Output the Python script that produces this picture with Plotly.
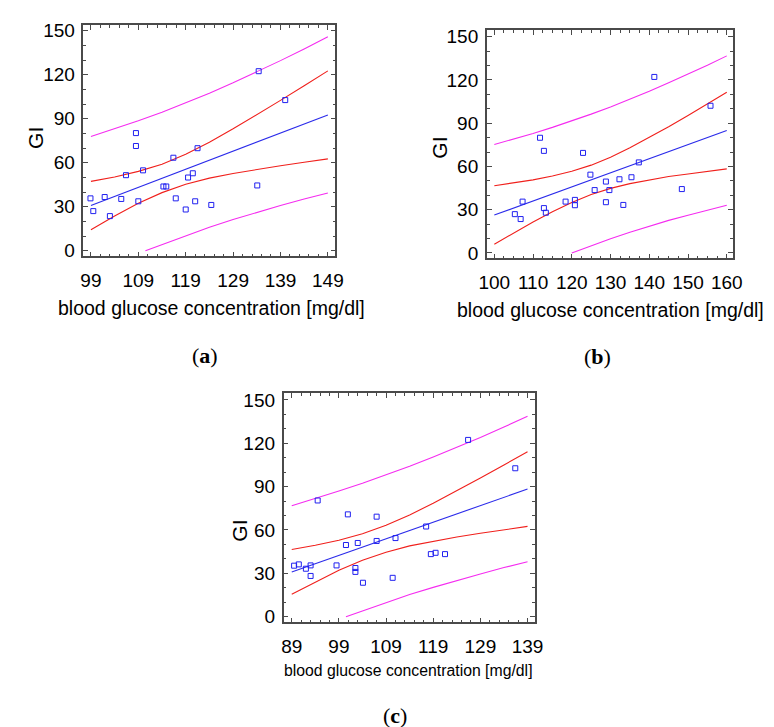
import plotly.graph_objects as go

W, H = 774, 727
FONT = "Liberation Sans, Arial, sans-serif"
SERIF = "Liberation Serif, DejaVu Serif, serif"

# ---------------- panel (a) ----------------
a_x = [98.9, 99.5, 101.9, 103.0, 105.4, 106.4, 108.5, 108.5, 109.0, 110.0, 114.3, 114.9,
       116.4, 116.9, 119.0, 119.5, 120.5, 121.0, 121.5, 124.4, 134.1, 134.4, 140.0]
a_gi = [35.7, 27.0, 36.6, 23.6, 35.3, 51.5, 80.2, 71.4, 33.7, 54.8, 43.8, 43.8,
        63.4, 35.7, 28.1, 49.9, 52.8, 33.7, 69.9, 31.2, 44.5, 122.4, 102.7]
a_fit_x = [99, 149]
a_fit_y = [30.8, 92.6]
a_band_x = [99, 104, 109, 114, 119, 124, 129, 134, 139, 144, 149]
a_conf_up = [47.3, 50.3, 54.1, 59.0, 65.7, 73.9, 83.1, 92.7, 102.5, 112.5, 122.6]
a_conf_lo = [14.3, 23.7, 32.3, 39.6, 45.3, 49.5, 52.7, 55.5, 57.9, 60.3, 62.6]
a_pred_up = [77.9, 83.1, 88.6, 94.4, 100.7, 107.4, 114.5, 121.9, 129.6, 137.6, 145.9]
a_pred_lo_x = [110.5, 114, 119, 124, 129, 134, 139, 144, 149]
a_pred_lo = [0.0, 4.2, 10.3, 16.0, 21.3, 26.3, 30.8, 35.2, 39.3]

# ---------------- panel (b) ----------------
b_x = [105.3, 106.8, 107.3, 111.8, 112.8, 112.8, 113.3, 118.4, 120.8, 120.8, 122.9, 124.8,
       125.9, 128.8, 128.8, 129.7, 132.3, 133.3, 135.4, 137.3, 141.3, 148.4, 155.8]
b_gi = [26.9, 23.5, 35.6, 79.9, 70.8, 31.1, 27.9, 35.6, 36.8, 33.1, 69.4, 54.3,
        43.6, 49.5, 35.2, 43.6, 51.1, 33.3, 52.5, 62.8, 122.1, 44.3, 102.1]
b_fit_x = [100, 160]
b_fit_y = [26.3, 84.9]
b_band_x = [100, 105, 110, 115, 120, 125, 130, 135, 140, 145, 150, 155, 160]
b_conf_up = [46.6, 48.5, 50.7, 53.4, 56.6, 60.9, 66.4, 72.9, 80.0, 87.6, 95.4, 103.4, 111.5]
b_conf_lo = [6.0, 13.9, 21.5, 28.6, 35.0, 40.5, 44.8, 48.1, 50.8, 53.0, 54.8, 56.6, 58.3]
b_pred_up = [75.2, 78.9, 82.9, 87.1, 91.5, 96.3, 101.3, 106.6, 112.2, 118.0, 124.0, 130.2, 136.7]
b_pred_lo_x = [120, 125, 130, 135, 140, 145, 150, 155, 160]
b_pred_lo = [0.0, 5.1, 9.9, 14.4, 18.6, 22.6, 26.2, 29.8, 33.1]

# ---------------- panel (c) ----------------
c_x = [89.5, 90.5, 92.0, 93.0, 93.0, 94.5, 98.5, 100.5, 100.9, 102.5, 102.5, 103.0,
       104.1, 107.0, 107.0, 110.4, 111.0, 117.5, 118.5, 119.5, 121.5, 126.4, 136.4]
c_gi = [35.3, 36.2, 33.2, 35.5, 28.2, 80.4, 35.5, 49.6, 70.8, 33.7, 31.0, 51.0,
        23.5, 69.2, 52.4, 26.9, 54.4, 62.4, 43.3, 44.2, 43.3, 122.3, 102.7]
c_fit_x = [89, 139]
c_fit_y = [31.0, 88.3]
c_band_x = [89, 94, 99, 104, 109, 114, 119, 124, 129, 134, 139]
c_conf_up = [46.5, 49.4, 52.9, 57.4, 63.2, 70.4, 78.5, 87.1, 95.9, 105.0, 114.1]
c_conf_lo = [15.5, 24.0, 32.1, 39.0, 44.6, 49.0, 52.3, 55.1, 57.7, 60.2, 62.5]
c_pred_up = [76.8, 81.7, 86.9, 92.3, 98.0, 104.1, 110.5, 117.1, 124.0, 131.2, 138.6]
c_pred_lo_x = [100.5, 104, 109, 114, 119, 124, 129, 134, 139]
c_pred_lo = [0.0, 4.1, 9.8, 15.3, 20.3, 25.1, 29.6, 34.0, 38.0]

x_title = "blood glucose concentration [mg/dl]"
y_title = "GI"
y_ticks = [0, 30, 60, 90, 120, 150]

BLUE = "#2b2bea"
RED = "#f0201c"
MAG = "#f52cf0"
PT = "#2020f0"

fig = go.Figure()


def add_panel(n, px, py, fx, fy, bx, cu, cl, pu, plx, pl):
    xa = "x" if n == 1 else f"x{n}"
    ya = "y" if n == 1 else f"y{n}"
    common = dict(xaxis=xa, yaxis=ya, showlegend=False, hoverinfo="skip")
    fig.add_trace(go.Scatter(x=bx, y=pu, mode="lines", line=dict(color=MAG, width=1.1), **common))
    fig.add_trace(go.Scatter(x=plx, y=pl, mode="lines", line=dict(color=MAG, width=1.1), **common))
    fig.add_trace(go.Scatter(x=bx, y=cu, mode="lines", line=dict(color=RED, width=1.1), **common))
    fig.add_trace(go.Scatter(x=bx, y=cl, mode="lines", line=dict(color=RED, width=1.1), **common))
    fig.add_trace(go.Scatter(x=fx, y=fy, mode="lines", line=dict(color=BLUE, width=1.1), **common))
    fig.add_trace(go.Scatter(x=px, y=py, mode="markers",
                             marker=dict(symbol="square-open", size=5, color=PT,
                                         line=dict(width=1, color=PT)), **common))


add_panel(1, a_x, a_gi, a_fit_x, a_fit_y, a_band_x, a_conf_up, a_conf_lo, a_pred_up, a_pred_lo_x, a_pred_lo)
add_panel(2, b_x, b_gi, b_fit_x, b_fit_y, b_band_x, b_conf_up, b_conf_lo, b_pred_up, b_pred_lo_x, b_pred_lo)
add_panel(3, c_x, c_gi, c_fit_x, c_fit_y, c_band_x, c_conf_up, c_conf_lo, c_pred_up, c_pred_lo_x, c_pred_lo)

AXCOL = "#4a4a4a"


def xaxis(domain, rng, tick0, minor_dt, anchor):
    return dict(domain=domain, range=rng, anchor=anchor, tick0=tick0, dtick=10,
                ticks="inside", ticklen=5, tickwidth=1, tickcolor=AXCOL,
                showline=True, linecolor=AXCOL, linewidth=1.5, mirror="ticks",
                showgrid=False, zeroline=False, ticklabelstandoff=6,
                tickfont=dict(family=FONT, size=19, color="black"),
                minor=dict(ticks="inside", ticklen=3, tickcolor=AXCOL, dtick=minor_dt,
                           tick0=tick0, showgrid=False))


def yaxis(domain, rng, anchor):
    return dict(domain=domain, range=rng, anchor=anchor, tickvals=y_ticks,
                ticks="inside", ticklen=5, tickwidth=1, tickcolor=AXCOL,
                showline=True, linecolor=AXCOL, linewidth=1.5, mirror="ticks",
                showgrid=False, zeroline=False, ticklabelstandoff=3,
                tickfont=dict(family=FONT, size=19, color="black"),
                minor=dict(ticks="inside", ticklen=3, tickcolor=AXCOL, dtick=10,
                           tick0=0, showgrid=False))


def px(v):
    return v / W


def py(v):
    return 1 - v / H


fig.update_layout(
    width=W, height=H,
    margin=dict(l=0, r=0, t=0, b=0),
    paper_bgcolor="white", plot_bgcolor="white",
    xaxis=xaxis([px(69), px(327)], [97.41, 150.59], 99, 2, "y"),
    yaxis=yaxis([py(247.5), py(13)], [-3.9, 154.0], "x"),
    xaxis2=xaxis([px(482), px(734)], [98.06, 161.59], 100, 2.5, "y2"),
    yaxis2=yaxis([py(249.5), py(18.3)], [-3.8, 154.6], "x2"),
    xaxis3=xaxis([px(274), px(531)], [87.28, 140.51], 89, 2, "y3"),
    yaxis3=yaxis([py(618), py(386)], [-3.9, 154.6], "x3"),
)

ann = []


def text(x, y, s, size, family=FONT, angle=0):
    ann.append(dict(x=px(x), y=py(y), xref="paper", yref="paper", text=s, showarrow=False,
                    xanchor="center", yanchor="middle", textangle=angle,
                    font=dict(family=family, size=size, color="black")))


text(200, 300, x_title, 19.5)
text(609, 301.5, x_title, 19.5)
text(402, 666.5, x_title, 15.8)
text(20, 128, y_title, 21, angle=-90)
text(434, 137.5, y_title, 21, angle=-90)
text(228.5, 525, y_title, 21, angle=-90)
text(193, 348, "(<b>a</b>)", 22, SERIF)
text(595, 349, "(<b>b</b>)", 22, SERIF)
text(388, 712, "(<b>c</b>)", 22, SERIF)

fig.update_layout(annotations=ann)
fig.write_html("out.html")
